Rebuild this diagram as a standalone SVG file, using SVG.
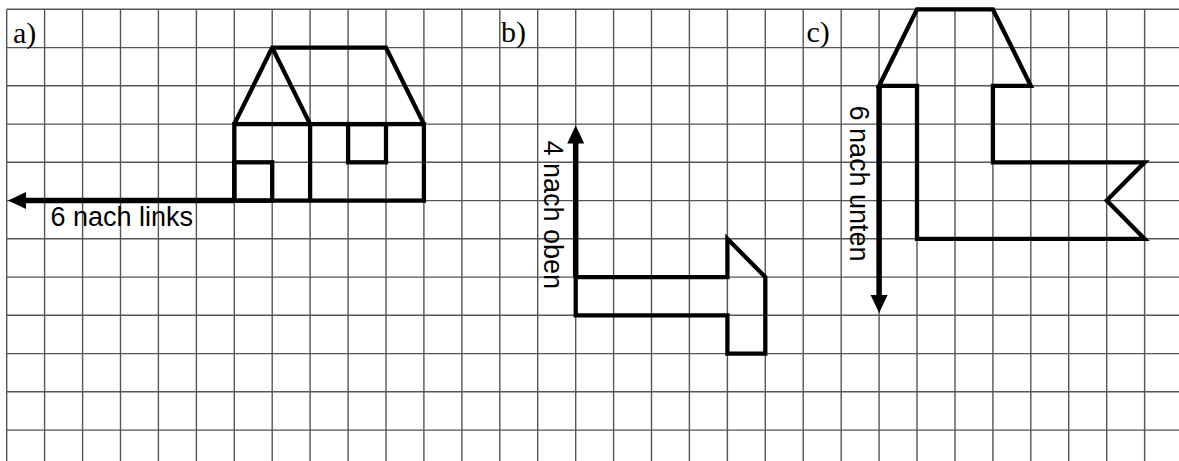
<svg xmlns="http://www.w3.org/2000/svg" width="1179" height="461" viewBox="0 0 1179 461">
<style>
.grid{fill:none;stroke:#555;stroke-width:1.4}
.shape{fill:none;stroke:#000;stroke-width:4.3;stroke-linejoin:miter}
.arrow{fill:none;stroke:#000;stroke-width:5.5;marker-end:url(#head)}
.lbl{font-family:"Liberation Serif","Times New Roman",serif;font-size:30px;fill:#000}
.txt{font-family:"Liberation Sans",Arial,sans-serif;font-size:27px;fill:#000}
</style>
<defs>
<marker id="head" markerUnits="userSpaceOnUse" viewBox="0 -9 19 18" markerWidth="19" markerHeight="18" refX="0.5" refY="0" orient="auto">
<path d="M0,-8.5 L18,0 L0,8.5 Z" fill="#000"/>
</marker>
</defs>
<rect width="1179" height="461" fill="#fff"/>
<g id="grid" class="grid">
<path d="M6.7,9.3V461M44.6,9.3V461M82.6,9.3V461M120.5,9.3V461M158.4,9.3V461M196.4,9.3V461M234.3,9.3V461M272.2,9.3V461M310.1,9.3V461M348.1,9.3V461M386,9.3V461M423.9,9.3V461M461.9,9.3V461M499.8,9.3V461M537.7,9.3V461M575.7,9.3V461M613.6,9.3V461M651.5,9.3V461M689.4,9.3V461M727.4,9.3V461M765.3,9.3V461M803.2,9.3V461M841.2,9.3V461M879.1,9.3V461M917,9.3V461M955,9.3V461M992.9,9.3V461M1030.8,9.3V461M1068.7,9.3V461M1106.7,9.3V461M1144.6,9.3V461"/>
<path d="M6.7,9.3H1179M6.7,47.6H1179M6.7,85.8H1179M6.7,124.1H1179M6.7,162.3H1179M6.7,200.6H1179M6.7,238.8H1179M6.7,277.1H1179M6.7,315.3H1179M6.7,353.6H1179M6.7,391.8H1179M6.7,430.1H1179"/>
</g>
<g id="labels">
<text class="lbl" x="13" y="43">a)</text>
<text class="lbl" x="501" y="42">b)</text>
<text class="lbl" x="806.5" y="41.5">c)</text>
</g>
<g id="house-a" class="shape">
<path d="M234.3,124.1 L272.2,47.6 L386,47.6 L423.9,124.1"/>
<path d="M272.2,47.6 L310.1,124.1"/>
<rect x="234.3" y="124.1" width="189.6" height="76.5"/>
<path d="M310.1,124.1 V200.6"/>
<rect x="234.3" y="162.3" width="37.9" height="38.3"/>
<rect x="348.1" y="124.1" width="37.9" height="38.2"/>
</g>
<g id="shape-b" class="shape">
<path d="M575.7,277.1 H727.4 V238.8 L765.3,277.1 V353.6 H727.4 V315.3 H575.7 Z"/>
</g>
<g id="shape-c" class="shape">
<path d="M879.1,85.8 L917,9.3 H992.9 L1030.8,85.8 H992.9 V162.3 H1144.6 L1106.7,200.6 L1144.6,238.8 H917 V85.8 Z"/>
</g>
<g id="connectors">
<path class="arrow" d="M234.3,200.6 H25.5"/>
<path class="arrow" d="M575.7,277.1 V143"/>
<path class="arrow" d="M879.1,85.8 V295.5"/>
</g>
<g id="arrow-labels">
<text class="txt" x="50.5" y="226">6 nach links</text>
<text class="txt" transform="translate(544,140.5) rotate(90)">4 nach oben</text>
<text class="txt" transform="translate(849.5,105.5) rotate(90)">6 nach unten</text>
</g>
</svg>
